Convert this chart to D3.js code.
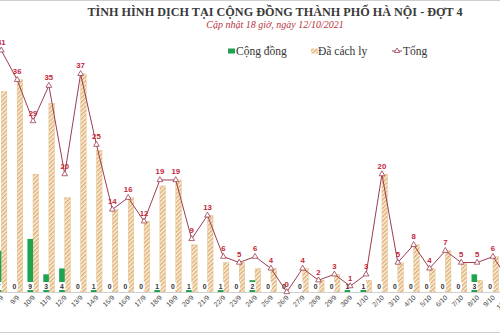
<!DOCTYPE html>
<html><head><meta charset="utf-8">
<script src="https://cdn.jsdelivr.net/npm/d3@7"></script>
<style>html,body{margin:0;padding:0;background:#fff;overflow:hidden}svg{display:block}</style>
</head><body>
<script>
const dates = ["8/9","9/9","10/9","11/9","12/9","13/9","14/9","15/9","16/9","17/9","18/9","19/9","20/9","21/9","22/9","23/9","24/9","25/9","26/9","27/9","28/9","29/9","30/9","1/10","2/10","3/10","4/10","5/10","6/10","7/10","8/10","9/10","10/10"];
const congDong = [7,0,9,3,4,0,1,0,0,0,1,0,1,0,1,0,2,0,0,0,0,0,1,1,0,0,0,0,0,0,3,0,0];
const daCachLy = [34,36,20,32,16,37,24,14,16,12,18,19,8,13,5,5,4,4,0,4,2,3,0,2,20,5,8,4,7,5,2,6,2];
const tong = [41,36,29,35,20,37,25,14,16,12,19,19,9,13,6,5,6,4,0,4,2,3,1,3,20,5,8,4,7,5,5,6,2];
const seriesNames = ["Cộng đồng","Đã cách ly","Tổng"];
const title = "TÌNH HÌNH DỊCH TẠI CỘNG ĐỒNG THÀNH PHỐ HÀ NỘI - ĐỢT 4";
const subtitle = "Cập nhật 18 giờ, ngày 12/10/2021";

const W = 500, H = 333;
const GREEN = "#1ea350", LINE = "#9c3e50", LBL = "#c4263a";
const svg = d3.select("body").append("svg").attr("width", W).attr("height", H);
svg.append("rect").attr("width", W).attr("height", H).attr("fill", "#fff");
const defs = svg.append("defs");
const pat = defs.append("pattern").attr("id","hatch").attr("patternUnits","userSpaceOnUse")
  .attr("width",3).attr("height",3).attr("patternTransform","rotate(45)");
pat.append("rect").attr("width",3).attr("height",3).attr("fill","#fcf3e6");
pat.append("line").attr("x1",0.8).attr("y1",0).attr("x2",0.8).attr("y2",3).attr("stroke","#d9a45e").attr("stroke-width",1.3);

// frame lines
svg.append("line").attr("x1",0).attr("x2",W).attr("y1",0.5).attr("y2",0.5).attr("stroke","#cfcfcf");
svg.append("line").attr("x1",0).attr("x2",W).attr("y1",332.5).attr("y2",332.5).attr("stroke","#cfcfcf");

const x = d3.scaleBand().domain(dates).range([-6.63, -6.63 + 15.86*dates.length]).padding(0);
const sub = d3.scaleBand().domain(["cd","cl"]).range([0, x.bandwidth()]).paddingInner(0).paddingOuter(0.42);
const y = d3.scaleLinear().domain([0, 41]).range([292, 50.3]);
const cx = d => x(d) + x.bandwidth()/2;

// title
svg.append("text").attr("x",275).attr("y",16).attr("text-anchor","middle")
  .attr("font-family","Liberation Serif").attr("font-weight","bold").attr("font-size",12.2)
  .attr("fill","#3a3a3a").text(title);
svg.append("text").attr("x",275).attr("y",28).attr("text-anchor","middle")
  .attr("font-family","Liberation Serif").attr("font-style","italic").attr("font-size",10)
  .attr("fill","#b8333c").text(subtitle);

// legend
const lg = svg.append("g").attr("font-family","Liberation Serif").attr("font-size",11.5).attr("fill","#333");
lg.append("rect").attr("x",228).attr("y",48.5).attr("width",7).attr("height",5).attr("fill",GREEN);
lg.append("text").attr("x",236).attr("y",55).text(seriesNames[0]);
lg.append("rect").attr("x",311).attr("y",48.5).attr("width",7).attr("height",5).attr("fill","url(#hatch)");
lg.append("text").attr("x",318).attr("y",55).text(seriesNames[1]);
lg.append("line").attr("x1",392).attr("x2",402).attr("y1",51).attr("y2",51).attr("stroke",LINE).attr("stroke-width",1);
lg.append("path").attr("d",d3.symbol(d3.symbolTriangle,12)()).attr("transform","translate(397,51)")
  .attr("fill","#fff").attr("stroke",LINE).attr("stroke-width",0.8);
lg.append("text").attr("x",403).attr("y",55).text(seriesNames[2]);

// bars
const g = svg.append("g");
g.selectAll("rect.cl").data(dates).join("rect").attr("class","cl")
  .attr("x", d => x(d) + sub("cl")).attr("width", sub.bandwidth())
  .attr("y", (d,i) => y(daCachLy[i])).attr("height", (d,i) => y(0) - y(daCachLy[i]))
  .attr("fill","url(#hatch)").attr("stroke","#e2bb86").attr("stroke-width",0.4);
g.selectAll("rect.cd").data(dates).join("rect").attr("class","cd")
  .attr("x", d => x(d) + sub("cd")).attr("width", sub.bandwidth())
  .attr("y", (d,i) => y(congDong[i])).attr("height", (d,i) => y(0) - y(congDong[i]))
  .attr("fill",GREEN);

// axis
const axis = d3.axisBottom(x).tickSize(0).tickPadding(0);
const ax = svg.append("g").attr("transform",`translate(0,${y(0)})`).call(axis);
ax.select(".domain").attr("stroke","#d0d0d0").attr("stroke-width",1).attr("d",`M0,0.5H${W}`);
ax.selectAll(".tick text").attr("font-family","Liberation Sans").attr("font-size",6.8).attr("fill","#444")
  .attr("text-anchor","end").attr("dy",0).attr("transform","translate(2.5,6) rotate(-45)");

// green value labels with white boxes
const gl = svg.append("g");
dates.forEach((d,i) => {
  const px = x(d) + sub("cd") + sub.bandwidth()/2;
  gl.append("rect").attr("x",px-3.5).attr("y",282).attr("width",7).attr("height",8).attr("fill","#fff");
  gl.append("text").attr("x",px).attr("y",289).attr("text-anchor","middle")
    .attr("font-family","Liberation Sans").attr("font-weight","bold").attr("font-size",6.8).attr("fill","#333")
    .text(congDong[i]);
});

// total line
const line = d3.line().x(d => cx(d)).y((d,i) => y(tong[i]));
svg.append("path").datum(dates).attr("d", line).attr("fill","none").attr("stroke",LINE).attr("stroke-width",1);
svg.selectAll("path.mk").data(dates).join("path").attr("class","mk")
  .attr("d", d3.symbol(d3.symbolTriangle, 14)())
  .attr("transform",(d,i)=>`translate(${cx(d)},${y(tong[i])})`)
  .attr("fill","#fff").attr("stroke",LINE).attr("stroke-width",0.8);
svg.selectAll("text.tl").data(dates).join("text").attr("class","tl")
  .attr("x", d => cx(d)).attr("y",(d,i)=>y(tong[i]) - 5.5)
  .attr("text-anchor","middle").attr("font-family","Liberation Sans").attr("font-weight","bold")
  .attr("font-size",7.8).attr("fill",LBL).text((d,i)=>tong[i]);
</script>
</body></html>
